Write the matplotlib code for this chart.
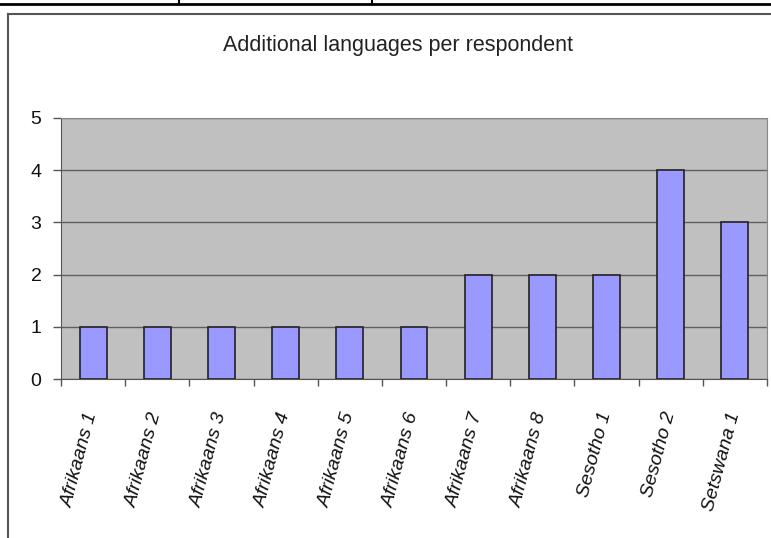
import matplotlib.pyplot as plt
from matplotlib.lines import Line2D
import numpy as np

respondents = ["Afrikaans 1", "Afrikaans 2", "Afrikaans 3", "Afrikaans 4",
               "Afrikaans 5", "Afrikaans 6", "Afrikaans 7", "Afrikaans 8",
               "Sesotho 1", "Sesotho 2", "Setswana 1"]
n_languages = [1, 1, 1, 1, 1, 1, 2, 2, 2, 4, 3]
y_ticks = [0, 1, 2, 3, 4, 5]
title = "Additional languages per respondent"

plt.rcParams["font.family"] = ["Liberation Sans", "DejaVu Sans"]

W, H = 771, 538
fig = plt.figure(figsize=(W / 100, H / 100), dpi=100)

# axes box in pixel coords: left 61, right 767, top 118, bottom 379
ax = fig.add_axes([61 / W, 1 - 379 / H, (767 - 61) / W, (379 - 118) / H])
ax.set_facecolor("#c0c0c0")

x = np.arange(len(respondents))
ax.bar(x, n_languages, width=0.42, color="#9999ff", edgecolor="#222222",
       linewidth=1.2, zorder=3)

ax.set_xlim(-0.5, len(respondents) - 0.5)
ax.set_ylim(0, 5)
ax.set_yticks(y_ticks)
ax.set_yticklabels([str(v) for v in y_ticks], fontsize=14, color="#111111")
ax.yaxis.grid(True, color="#606060", linewidth=1, zorder=1)
ax.set_axisbelow(True)

# category ticks sit on boundaries, labels at centres
ax.set_xticks(np.arange(len(respondents) + 1) - 0.5)
ax.set_xticklabels([])
ax.set_xticks(x, minor=True)
ax.set_xticklabels(respondents, minor=True, rotation=75, ha="right",
                   va="center", rotation_mode="anchor", fontsize=14,
                   style="italic", color="#111111")
ax.tick_params(axis="x", which="minor", length=0, pad=24)
ax.tick_params(axis="x", which="major", length=5, color="#555555", width=1)
ax.tick_params(axis="y", length=6, color="#555555", width=1, pad=8)

for side in ["top", "right"]:
    ax.spines[side].set_color("#888888")
for side in ["left", "bottom"]:
    ax.spines[side].set_color("#555555")

fig.text(398 / W, 1 - 46 / H, title, ha="center", va="center", fontsize=15.5,
         color="#222222")

# outer chart frame (cut off at the right and bottom)
fig.add_artist(Line2D([8 / W, 8 / W], [0, 1 - 14 / H], color="#555555", lw=1.5))
fig.add_artist(Line2D([8 / W, 1], [1 - 14 / H, 1 - 14 / H], color="#555555", lw=1.5))

# table borders above the chart
fig.add_artist(Line2D([0, 1], [1 - 3.5 / H, 1 - 3.5 / H], color="black", lw=2))
for px in [179, 372]:
    fig.add_artist(Line2D([px / W, px / W], [1 - 3.5 / H, 1], color="black", lw=1.5))

fig.savefig("out.png", dpi=100)
